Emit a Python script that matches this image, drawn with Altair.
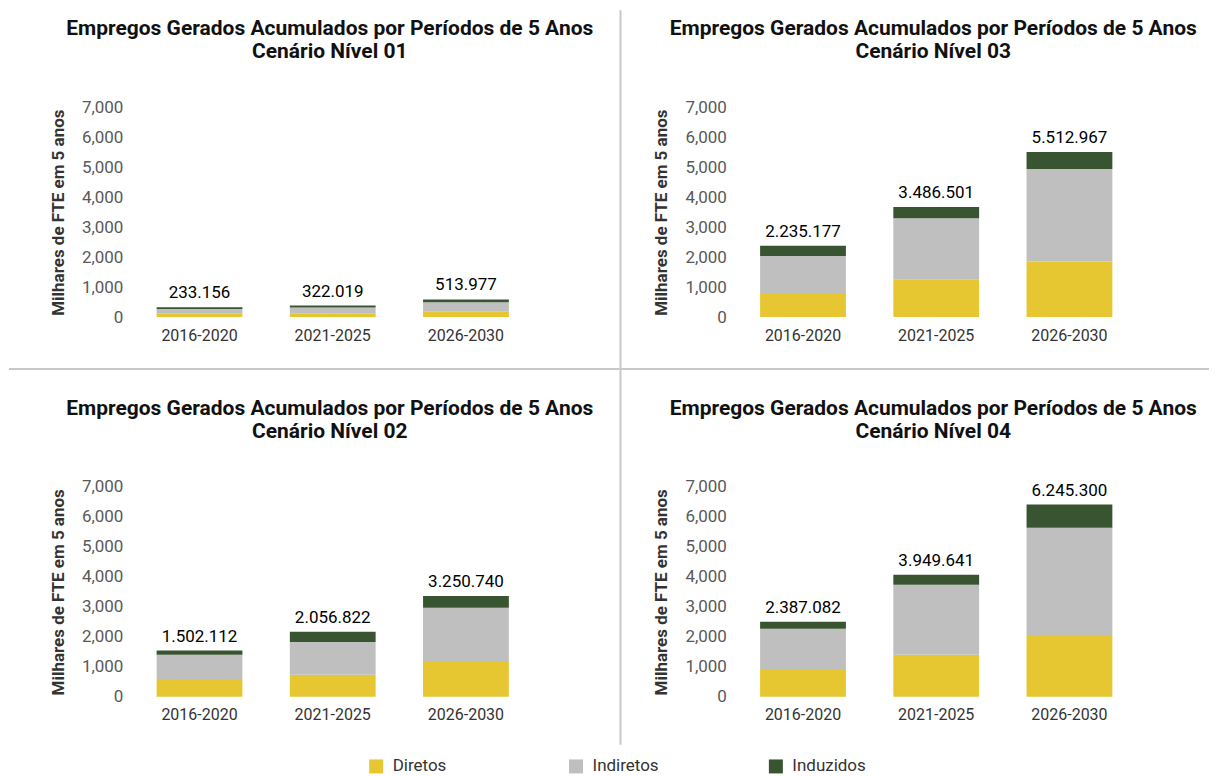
import altair as alt
import pandas as pd

periods = ["2016-2020", "2021-2025", "2026-2030"]
series = ["Diretos", "Indiretos", "Induzidos"]
colors = ["#E6C631", "#BFBFBF", "#385431"]

n01_diretos = [125, 125, 190]
n01_indiretos = [140, 195, 300]
n01_induzidos = [60, 65, 100]
n01_labels = ["233.156", "322.019", "513.977"]

n02_diretos = [560, 735, 1160]
n02_indiretos = [845, 1095, 1805]
n02_induzidos = [135, 335, 400]
n02_labels = ["1.502.112", "2.056.822", "3.250.740"]

n03_diretos = [770, 1260, 1850]
n03_indiretos = [1270, 2040, 3090]
n03_induzidos = [335, 370, 570]
n03_labels = ["2.235.177", "3.486.501", "5.512.967"]

n04_diretos = [895, 1405, 2030]
n04_indiretos = [1370, 2330, 3610]
n04_induzidos = [235, 335, 770]
n04_labels = ["2.387.082", "3.949.641", "6.245.300"]

title_line1 = "Empregos Gerados Acumulados por Períodos de 5 Anos"
y_title = "Milhares de FTE em 5 anos"
y_ticks = [0, 1000, 2000, 3000, 4000, 5000, 6000, 7000]

FONT = "Roboto"
W = 400
H = 210


def y_axis():
    return alt.Axis(values=y_ticks, format=",d", grid=False, ticks=False,
                    domain=False, labelFontSize=17, labelColor="#595959",
                    labelPadding=10, labelFont=FONT, labelOverlap=False,
                    titleFont=FONT, titleFontSize=17, titleFontWeight="bold",
                    titleColor="#333333", titlePadding=14)


def y_scale():
    return alt.Scale(domain=[0, 7000], nice=False, zero=True)


def panel(nivel, diretos, indiretos, induzidos, labels, extra=None):
    rows = []
    for i, p in enumerate(periods):
        for j, (s, vals) in enumerate(zip(series, [diretos, indiretos, induzidos])):
            rows.append({"period": p, "serie": s, "value": vals[i], "ord": j})
    df = pd.DataFrame(rows)
    tot = pd.DataFrame({
        "period": periods,
        "total": [d + i + n for d, i, n in zip(diretos, indiretos, induzidos)],
        "label": labels,
    })
    xenc = alt.X(
        "period:N", sort=periods, title=None,
        scale=alt.Scale(paddingInner=0.356, paddingOuter=0.178),
        axis=alt.Axis(labelAngle=0, ticks=False, domain=False, labelFontSize=16,
                      labelColor="#333333", labelPadding=10, labelFont=FONT),
    )
    bars = alt.Chart(df).mark_bar().encode(
        x=xenc,
        y=alt.Y("value:Q", stack="zero", title=y_title, scale=y_scale(), axis=y_axis()),
        color=alt.Color("serie:N", sort=series,
                        scale=alt.Scale(domain=series, range=colors),
                        legend=alt.Legend(title=None, orient="none", direction="horizontal",
                                          legendX=235, legendY=651, symbolType="square",
                                          symbolSize=196, symbolStrokeWidth=0,
                                          labelFontSize=17, labelColor="#333333",
                                          labelFont=FONT, labelOffset=8,
                                          columnPadding=101, gridAlign="all")),
        order=alt.Order("ord:Q", sort="ascending"),
    )
    text = alt.Chart(tot).mark_text(baseline="alphabetic", dy=-9, fontSize=17,
                                    font=FONT, fontWeight="normal", color="#000000").encode(
        x=xenc,
        y=alt.Y("total:Q", title=y_title, scale=y_scale(), axis=y_axis()),
        text="label:N",
    )
    title_df = pd.DataFrame({"t": [title_line1 + "\n" + "Cenário Nível " + nivel]})
    title = alt.Chart(title_df).mark_text(
        baseline="alphabetic", align="center", fontSize=21, fontWeight="bold", font=FONT,
        color="#111111", lineBreak="\n", lineHeight=23,
    ).encode(x=alt.value(W / 2 - 3), y=alt.value(-72), text="t:N")
    layers = [bars, text, title]
    if extra is not None:
        layers += extra
    return alt.layer(*layers).properties(width=W, height=H)


sep_df = pd.DataFrame({"sep": ["linha"]})
vrule = alt.Chart(sep_df).mark_rule(color="#C8C8C8", strokeWidth=2).encode(
    x=alt.value(488), y=alt.value(-97), y2=alt.value(638))
hrule = alt.Chart(sep_df).mark_rule(color="#C8C8C8", strokeWidth=2).encode(
    x=alt.value(-124), x2=alt.value(1077), y=alt.value(262))

tl = panel("01", n01_diretos, n01_indiretos, n01_induzidos, n01_labels, extra=[vrule, hrule])
tr = panel("03", n03_diretos, n03_indiretos, n03_induzidos, n03_labels)
bl = panel("02", n02_diretos, n02_indiretos, n02_induzidos, n02_labels)
br = panel("04", n04_diretos, n04_indiretos, n04_induzidos, n04_labels)

chart = alt.concat(
    tl, tr, bl, br, columns=2, spacing={"row": 170, "column": 204}, bounds="flush"
).properties(
    padding={"left": 0, "top": 1, "right": 0, "bottom": 0}
).configure(font=FONT).configure_view(stroke="transparent", strokeWidth=0)

chart.save("out.html", embed_options={"renderer": "svg", "actions": False})
